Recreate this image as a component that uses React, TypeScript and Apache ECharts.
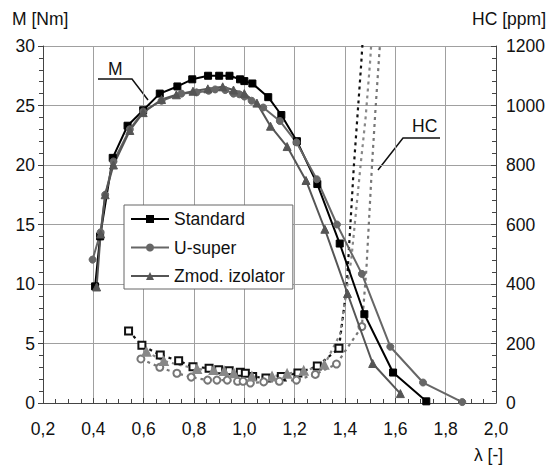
import React, { useEffect, useRef } from "react";
import * as echarts from "echarts";

const FONT = "'Liberation Sans', Arial, sans-serif";
const FS = 17.5;

const xTicks = { min: 0.2, max: 2.0, step: 0.2 };
const mTicks = { min: 0, max: 30, step: 5 };
const hcTicks = { min: 0, max: 1200, step: 200 };

const seriesNames = ["Standard", "U-super", "Zmod. izolator"];

const standardM: number[][] = [
  [0.407, 9.8], [0.427, 14.0], [0.477, 20.6], [0.536, 23.3], [0.598, 24.6],
  [0.664, 26.0], [0.734, 26.6], [0.793, 27.2], [0.856, 27.5], [0.9, 27.5],
  [0.941, 27.5], [0.983, 27.2], [1.0, 27.05], [1.032, 26.85], [1.095, 25.7],
  [1.147, 24.2], [1.209, 22.0], [1.29, 18.4], [1.379, 13.4], [1.477, 7.46],
  [1.591, 2.56], [1.723, 0.14],
];

const usuperM: number[][] = [
  [0.397, 12.05], [0.429, 14.35], [0.447, 17.5], [0.48, 20.3], [0.545, 23.0],
  [0.598, 24.5], [0.671, 25.4], [0.75, 26.0], [0.81, 26.1], [0.858, 26.24],
  [0.884, 26.35], [0.924, 26.3], [0.957, 26.0], [0.98, 25.94], [1.0, 25.75],
  [1.029, 25.4], [1.075, 24.83], [1.141, 23.7], [1.207, 21.9], [1.288, 18.8],
  [1.368, 15.0], [1.467, 10.85], [1.58, 4.73], [1.71, 1.72], [1.866, 0.08],
];

const zmodM: number[][] = [
  [0.413, 9.75], [0.429, 14.2], [0.447, 17.5], [0.48, 20.0], [0.545, 22.9],
  [0.598, 24.4], [0.671, 25.5], [0.73, 25.9], [0.796, 26.2], [0.855, 26.4],
  [0.914, 26.57], [0.957, 26.3], [1.0, 26.0], [1.05, 25.2], [1.104, 23.26],
  [1.17, 21.55], [1.245, 18.7], [1.32, 14.6], [1.41, 9.2], [1.51, 3.32],
  [1.62, 0.79],
];

// HC [ppm]; tail points (no marker) are the steep rise that leaves the plot
const standardHC: number[][] = [
  [0.54, 242], [0.593, 194], [0.666, 161], [0.739, 142], [0.796, 122],
  [0.86, 117], [0.898, 112], [0.94, 108], [0.984, 103], [1.004, 100],
  [1.033, 89], [1.086, 84], [1.147, 89], [1.213, 101], [1.29, 124],
  [1.376, 184],
];
const standardHCTail: number[][] = [[1.407, 394], [1.435, 794], [1.464, 1135], [1.48, 1350]];

const usuperHC: number[][] = [
  [0.589, 148], [0.664, 120], [0.732, 100], [0.789, 87], [0.854, 77],
  [0.891, 77], [0.932, 77], [0.973, 73], [0.995, 73], [1.024, 67],
  [1.077, 71], [1.139, 73], [1.207, 77], [1.282, 96], [1.366, 131],
  [1.467, 257],
];
const usuperHCTail: number[][] = [[1.485, 450], [1.508, 810], [1.521, 985], [1.536, 1170], [1.555, 1400]];

const zmodHC: number[][] = [
  [0.611, 172], [0.68, 141], [0.812, 114], [0.878, 111], [0.92, 107],
  [0.958, 100], [1.03, 89], [1.11, 89], [1.17, 98], [1.236, 108],
  [1.318, 128],
];
const zmodHCTail: number[][] = [[1.38, 230], [1.425, 483], [1.462, 800], [1.482, 960], [1.5, 1150], [1.515, 1350]];

const fmt = (v: number) => v.toFixed(1).replace(".", ",");

export default function App() {
  const ref = useRef<HTMLDivElement>(null);
  useEffect(() => {
    if (!ref.current) return;
    const chart = echarts.init(ref.current, undefined, { renderer: "svg" });
    const withTail = (pts: number[][], tail: number[][]) => [
      ...pts.map((p) => ({ value: p })),
      ...tail.map((p) => ({ value: p, symbol: "none" })),
    ];
    const mSeries = (name: string, data: number[][], color: string, symbol: string, size: number) => ({
      name,
      type: "line",
      data,
      symbol,
      symbolSize: size,
      showAllSymbol: true,
      lineStyle: { color, width: 2 },
      itemStyle: { color, borderColor: color },
      yAxisIndex: 0,
      z: 5,
    });
    const hcSeries = (name: string, data: any[], color: string, symbol: string, size: number, markerColor: string) => ({
      name,
      type: "line",
      data,
      symbol,
      symbolSize: size,
      showAllSymbol: true,
      lineStyle: { color, width: 2.2, type: [3, 4] },
      itemStyle: { color: markerColor, borderColor: markerColor, borderWidth: 1.8 },
      yAxisIndex: 1,
      z: 3,
    });
    const tickStyle = { color: "#444", width: 1 };
    chart.setOption({
      animation: false,
      backgroundColor: "#fff",
      textStyle: { fontFamily: FONT },
      grid: { left: 43, right: 53, top: 46, bottom: 62 },
      legend: {
        data: seriesNames,
        orient: "vertical",
        left: 124,
        top: 205,
        itemWidth: 38,
        itemHeight: 10,
        itemGap: 8.5,
        padding: [4, 8, 3, 6],
        backgroundColor: "#fff",
        borderColor: "#666",
        borderWidth: 1,
        textStyle: { fontSize: FS, lineHeight: 20, color: "#111", fontFamily: FONT },
        z: 10,
      },
      xAxis: {
        type: "value",
        min: xTicks.min,
        max: xTicks.max,
        interval: xTicks.step,
        axisLine: { show: true, onZero: false, lineStyle: tickStyle },
        axisTick: { show: true, inside: true, length: 5, lineStyle: tickStyle },
        minorTick: { show: true, splitNumber: 4, length: 4, lineStyle: tickStyle },
        splitLine: { show: true, lineStyle: { color: "#a0a0a0", width: 1 } },
        axisLabel: { formatter: fmt, fontSize: FS, color: "#111", margin: 17, fontFamily: FONT },
      },
      yAxis: [
        {
          type: "value",
          min: mTicks.min,
          max: mTicks.max,
          interval: mTicks.step,
          axisLine: { show: true, lineStyle: tickStyle },
          axisTick: { show: true, inside: false, length: 5, lineStyle: tickStyle },
          minorTick: { show: true, splitNumber: 5, length: 4, lineStyle: tickStyle },
          splitLine: { show: true, lineStyle: { color: "#a0a0a0", width: 1 } },
          axisLabel: { fontSize: FS, color: "#111", margin: 8, fontFamily: FONT },
        },
        {
          type: "value",
          min: hcTicks.min,
          max: hcTicks.max,
          interval: hcTicks.step,
          position: "right",
          axisLine: { show: true, lineStyle: tickStyle },
          axisTick: { show: true, inside: true, length: 5, lineStyle: tickStyle },
          minorTick: { show: true, splitNumber: 5, length: 4, lineStyle: tickStyle },
          splitLine: { show: false },
          axisLabel: { formatter: (v: number) => String(v), fontSize: FS, color: "#111", margin: 10, fontFamily: FONT },
        },
      ],
      series: [
        hcSeries("HC Standard", withTail(standardHC, standardHCTail), "#111", "emptyRect", 7, "#111"),
        hcSeries("HC U-super", withTail(usuperHC, usuperHCTail), "#777", "emptyCircle", 7, "#777"),
        hcSeries("HC Zmod", withTail(zmodHC, zmodHCTail), "#888", "triangle", 8, "#888"),
        mSeries(seriesNames[0], standardM, "#000", "rect", 7),
        mSeries(seriesNames[1], usuperM, "#666", "circle", 7),
        mSeries(seriesNames[2], zmodM, "#555", "triangle", 8),
      ],
      graphic: [
        { type: "text", left: 12, top: 10, style: { text: "M [Nm]", font: `${FS}px ${FONT}`, fill: "#111" } },
        { type: "text", right: 3, top: 10, style: { text: "HC [ppm]", font: `${FS}px ${FONT}`, fill: "#111" } },
        { type: "text", left: 474, top: 446, style: { text: "λ [-]", font: `${FS}px ${FONT}`, fill: "#111" } },
        { type: "text", left: 108, top: 60, style: { text: "M", font: `${FS}px ${FONT}`, fill: "#111" } },
        { type: "polyline", shape: { points: [[98, 79], [132, 79], [148, 100]] }, style: { stroke: "#111", lineWidth: 1.5, fill: "none" } },
        { type: "text", left: 412, top: 117, style: { text: "HC", font: `${FS}px ${FONT}`, fill: "#111" } },
        { type: "polyline", shape: { points: [[440, 138], [403, 138], [378, 170]] }, style: { stroke: "#111", lineWidth: 1.5, fill: "none" } },
      ],
    });
    return () => chart.dispose();
  }, []);
  return <div ref={ref} style={{ position: "fixed", left: 0, top: 0, width: 549, height: 465 }} />;
}
